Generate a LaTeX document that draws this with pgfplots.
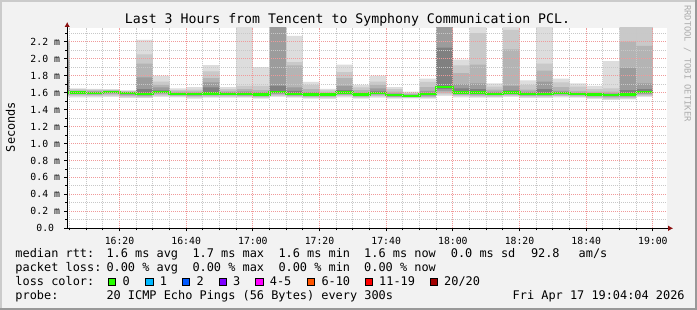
\documentclass[border=0pt]{standalone}
\usepackage{fontspec}
\setmainfont{DejaVu Sans Mono}
\usepackage{pgfplots}
\pgfplotsset{compat=1.18}
\usepackage{pgfplotstable}
\usetikzlibrary{arrows.meta}
\frenchspacing

\definecolor{bgcol}{HTML}{F2F2F2}
\definecolor{shadea}{HTML}{CBCBCB}
\definecolor{shadeb}{HTML}{999999}
\definecolor{mingrid}{HTML}{C8C8C8}
\definecolor{majgrid}{HTML}{F09A9A}
\definecolor{arrowred}{HTML}{8B1010}
\definecolor{T1}{HTML}{DDDDDD}
\definecolor{T2}{HTML}{C9C9C9}
\definecolor{T3}{HTML}{B4B4B4}
\definecolor{T4}{HTML}{9C9C9C}
\definecolor{T5}{HTML}{808080}
\definecolor{loss0}{HTML}{26FF00}
\definecolor{loss1}{HTML}{00B8FF}
\definecolor{loss2}{HTML}{0059FF}
\definecolor{loss3}{HTML}{7E00FF}
\definecolor{loss4}{HTML}{FF00FF}
\definecolor{loss6}{HTML}{FF5500}
\definecolor{loss11}{HTML}{FF0000}
\definecolor{loss20}{HTML}{A10000}

\newcommand{\titlefont}{\fontsize{13.2pt}{15pt}\selectfont}
\newcommand{\legfont}{\fontsize{11.9pt}{14pt}\selectfont}
\newcommand{\tickfont}{\fontsize{9.8pt}{11pt}\selectfont}

% x = minutes after 16:00 (start of each 5-minute step); values in ms
\pgfplotstableread{
x   t1    t2    t3    t4    t5    med   b5    b4    b3    b2    b1
0   2.220 2.210 2.190 1.980 1.750 1.600 1.590 1.580 1.570 1.560 1.550
5   1.650 1.640 1.625 1.615 1.607 1.600 1.590 1.582 1.572 1.560 1.545
10  1.645 1.635 1.622 1.613 1.606 1.598 1.590 1.580 1.570 1.558 1.545
15  1.640 1.633 1.625 1.620 1.615 1.610 1.600 1.590 1.580 1.565 1.550
20  1.627 1.620 1.612 1.607 1.603 1.598 1.585 1.570 1.560 1.548 1.535
25  2.220 2.050 1.940 1.780 1.640 1.585 1.575 1.565 1.555 1.545 1.535
30  1.800 1.730 1.690 1.660 1.625 1.610 1.600 1.590 1.580 1.565 1.550
35  1.650 1.630 1.615 1.600 1.593 1.585 1.577 1.570 1.562 1.555 1.545
40  1.665 1.635 1.615 1.600 1.592 1.585 1.575 1.565 1.555 1.545 1.530
45  1.925 1.850 1.770 1.720 1.660 1.590 1.580 1.570 1.560 1.550 1.540
50  1.665 1.640 1.620 1.605 1.595 1.588 1.580 1.572 1.563 1.553 1.540
55  2.500 1.680 1.640 1.615 1.598 1.585 1.575 1.567 1.558 1.548 1.540
60  1.900 1.680 1.630 1.605 1.590 1.578 1.570 1.560 1.550 1.540 1.530
65  2.500 2.500 2.500 2.500 1.680 1.610 1.595 1.585 1.575 1.560 1.550
70  2.270 1.960 1.920 1.660 1.620 1.588 1.578 1.568 1.558 1.548 1.540
75  1.726 1.690 1.640 1.605 1.590 1.578 1.570 1.560 1.550 1.540 1.530
80  1.645 1.625 1.600 1.590 1.584 1.578 1.570 1.560 1.550 1.540 1.525
85  1.930 1.840 1.770 1.680 1.630 1.600 1.590 1.580 1.570 1.558 1.545
90  1.690 1.660 1.630 1.600 1.590 1.578 1.570 1.560 1.550 1.540 1.530
95  1.800 1.730 1.690 1.650 1.615 1.598 1.588 1.578 1.568 1.555 1.540
100 1.665 1.640 1.610 1.590 1.578 1.568 1.560 1.553 1.546 1.540 1.530
105 1.610 1.595 1.585 1.575 1.568 1.563 1.556 1.550 1.545 1.540 1.533
110 1.765 1.725 1.665 1.620 1.595 1.580 1.570 1.560 1.550 1.540 1.530
115 2.500 2.500 2.500 2.500 2.130 1.667 1.640 1.620 1.600 1.580 1.560
120 1.990 1.920 1.830 1.700 1.650 1.600 1.590 1.580 1.570 1.558 1.545
125 2.500 2.300 1.930 1.710 1.640 1.600 1.588 1.575 1.565 1.553 1.540
130 1.710 1.670 1.635 1.610 1.597 1.588 1.580 1.570 1.560 1.550 1.540
135 2.500 2.340 2.110 1.680 1.625 1.600 1.590 1.580 1.570 1.560 1.550
140 1.745 1.690 1.635 1.610 1.597 1.588 1.578 1.568 1.558 1.548 1.535
145 2.500 1.940 1.860 1.730 1.640 1.588 1.578 1.568 1.558 1.548 1.535
150 1.765 1.720 1.665 1.620 1.605 1.598 1.588 1.578 1.568 1.558 1.545
155 1.710 1.670 1.620 1.600 1.592 1.588 1.580 1.570 1.560 1.550 1.540
160 1.680 1.640 1.610 1.595 1.585 1.578 1.568 1.558 1.548 1.535 1.525
165 1.970 1.650 1.610 1.590 1.582 1.575 1.565 1.552 1.540 1.525 1.510
170 2.500 2.500 2.200 1.890 1.630 1.578 1.568 1.555 1.545 1.532 1.520
175 2.500 2.500 2.150 1.710 1.640 1.605 1.595 1.585 1.575 1.560 1.550
180 2.500 2.500 2.150 1.710 1.640 1.605 1.595 1.585 1.575 1.560 1.550
}\smoke

\begin{document}
\begin{tikzpicture}
% canvas and frame
\fill[bgcol] (0pt,0pt) rectangle (697pt,310pt);
\fill[shadea] (0pt,308pt) rectangle (697pt,310pt);
\fill[shadea] (0pt,0pt) rectangle (2pt,310pt);
\fill[shadeb] (0pt,0pt) rectangle (697pt,2pt);
\fill[shadeb] (695pt,0pt) rectangle (697pt,310pt);

\begin{axis}[
  at={(67.2pt,81.7pt)}, anchor=south west,
  scale only axis, width=600pt, height=200.3pt,
  xmin=4.3, xmax=184.3, ymin=0, ymax=2.3615,
  axis on top,
  axis background/.style={fill=white},
  axis lines=left,
  axis line style={black, line width=0.9pt},
  x axis line style={-{Latex[length=5pt,width=5.5pt,color=arrowred]}, shorten >=-6pt},
  y axis line style={-{Latex[length=5pt,width=5.5pt,color=arrowred]}, shorten >=-6pt},
  xtick={20,40,60,80,100,120,140,160,180},
  xticklabels={16:20,16:40,17:00,17:20,17:40,18:00,18:20,18:40,19:00},
  minor xtick={5,10,15,25,30,35,45,50,55,65,70,75,85,90,95,105,110,115,125,130,135,145,150,155,165,170,175},
  ytick={0,0.2,0.4,0.6,0.8,1.0,1.2,1.4,1.6,1.8,2.0,2.2},
  yticklabels={0.0\phantom{m},0.2 m,0.4 m,0.6 m,0.8 m,1.0 m,1.2 m,1.4 m,1.6 m,1.8 m,2.0 m,2.2 m},
  minor ytick={0.1,0.3,0.5,0.7,0.9,1.1,1.3,1.5,1.7,1.9,2.1,2.3},
  grid=both,
  major grid style={draw=majgrid, dash pattern=on 1pt off 1pt, line width=0.9pt},
  minor grid style={draw=mingrid, dash pattern=on 1pt off 1pt, line width=0.9pt},
  tick align=outside,
  major tick length=3pt, minor tick length=2pt,
  tick style={black, line width=0.8pt},
  ticklabel style={font=\tickfont, text=black},
  xticklabel style={anchor=base, inner sep=0pt, yshift=-13pt},
  yticklabel style={anchor=east, inner sep=0pt, xshift=-4pt},
]
\addplot[const plot, fill=T1, draw=none] table[x=x,y=t1]{\smoke} \closedcycle;
\addplot[const plot, fill=T2, draw=none] table[x=x,y=t2]{\smoke} \closedcycle;
\addplot[const plot, fill=T3, draw=none] table[x=x,y=t3]{\smoke} \closedcycle;
\addplot[const plot, fill=T4, draw=none] table[x=x,y=t4]{\smoke} \closedcycle;
\addplot[const plot, fill=T5, draw=none] table[x=x,y=t5]{\smoke} \closedcycle;
\addplot[const plot, fill=T4, draw=none] table[x=x,y=b5]{\smoke} \closedcycle;
\addplot[const plot, fill=T3, draw=none] table[x=x,y=b4]{\smoke} \closedcycle;
\addplot[const plot, fill=T2, draw=none] table[x=x,y=b3]{\smoke} \closedcycle;
\addplot[const plot, fill=T1, draw=none] table[x=x,y=b2]{\smoke} \closedcycle;
\addplot[const plot, fill=white, draw=none] table[x=x,y=b1]{\smoke} \closedcycle;
\addplot[const plot, draw=loss0, line width=2.2pt] table[x=x,y=med]{\smoke};
\end{axis}

% title, unit, vertical credit
\node[anchor=base, inner sep=0pt, font=\titlefont] at (347.5pt,286pt) {Last 3 Hours from Tencent to Symphony Communication PCL.};
\node[rotate=90, inner sep=0pt, font=\legfont] at (10.5pt,183pt) {Seconds};
\node[rotate=-90, anchor=base west, inner sep=0pt, font=\fontsize{8.8pt}{10pt}\selectfont, text=black!32] at (684.5pt,305pt) {RRDTOOL / TOBI OETIKER};

% legend line 1
\begin{scope}[every node/.style={anchor=base west, inner sep=0pt, font=\legfont}]
\node at (15.3pt,52pt) {median rtt:};
\node at (106.3pt,52pt) {1.6 ms avg};
\node at (192.3pt,52pt) {1.7 ms max};
\node at (278.3pt,52pt) {1.6 ms min};
\node at (364pt,52pt) {1.6 ms now};
\node at (450.7pt,52pt) {0.0 ms sd};
\node at (530.8pt,52pt) {92.8};
\node at (578.5pt,52pt) {am/s};
% line 2
\node at (15.3pt,38.2pt) {packet loss:};
\node at (106.3pt,38.2pt) {0.00 \% avg};
\node at (192.3pt,38.2pt) {0.00 \% max};
\node at (278.3pt,38.2pt) {0.00 \% min};
\node at (364pt,38.2pt) {0.00 \% now};
% line 3
\node at (15.3pt,24.4pt) {loss color:};
\node at (122.3pt,24.4pt) {0};
\node at (159.7pt,24.4pt) {1};
\node at (196.3pt,24.4pt) {2};
\node at (233pt,24.4pt) {3};
\node at (269.7pt,24.4pt) {4-5};
\node at (321.3pt,24.4pt) {6-10};
\node at (379pt,24.4pt) {11-19};
\node at (444pt,24.4pt) {20/20};
% line 4
\node at (15.3pt,10.6pt) {probe:};
\node at (106.3pt,10.6pt) {20 ICMP Echo Pings (56 Bytes) every 300s};
\node at (512.5pt,10.6pt) {Fri Apr 17 19:04:04 2026};
\end{scope}
\begin{scope}[line width=0.8pt, draw=black]
\filldraw[fill=loss0] (108.3pt,24.4pt) rectangle ++(7.3pt,7.3pt);
\filldraw[fill=loss1] (145.7pt,24.4pt) rectangle ++(7.3pt,7.3pt);
\filldraw[fill=loss2] (182.3pt,24.4pt) rectangle ++(7.3pt,7.3pt);
\filldraw[fill=loss3] (219pt,24.4pt) rectangle ++(7.3pt,7.3pt);
\filldraw[fill=loss4] (255.7pt,24.4pt) rectangle ++(7.3pt,7.3pt);
\filldraw[fill=loss6] (307.3pt,24.4pt) rectangle ++(7.3pt,7.3pt);
\filldraw[fill=loss11] (365pt,24.4pt) rectangle ++(7.3pt,7.3pt);
\filldraw[fill=loss20] (430pt,24.4pt) rectangle ++(7.3pt,7.3pt);
\end{scope}

\pgfresetboundingbox
\path (0pt,0pt) rectangle (697pt,310pt);
\end{tikzpicture}
\end{document}
